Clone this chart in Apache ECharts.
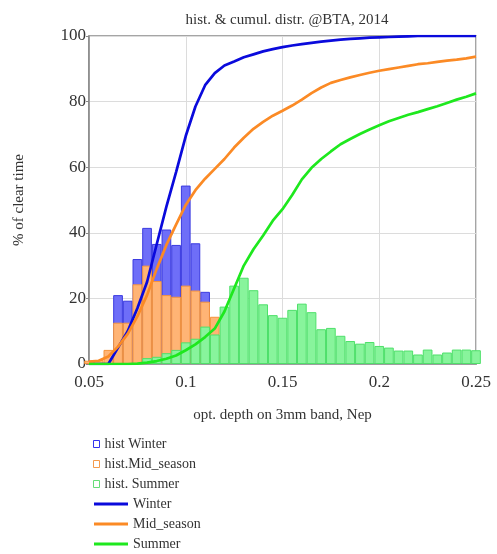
<!DOCTYPE html>
<html lang="en" style="height: 100%">

<head>
  <meta charset="utf-8">
</head>

<body style="height: 100%; margin: 0">
  <div id="container" style="height: 100%"></div>

  <script type="text/javascript" src="https://fastly.jsdelivr.net/npm/echarts@6.0.0/dist/echarts.min.js"></script>

  <script type="text/javascript">
    // bin centres, opt. depth (Nep)
    const binX = [
      0.05, 0.055, 0.06, 0.065, 0.07, 0.075, 0.08, 0.085, 0.09, 0.095,
      0.1, 0.105, 0.11, 0.115, 0.12, 0.125, 0.13, 0.135, 0.14, 0.145,
      0.15, 0.155, 0.16, 0.165, 0.17, 0.175, 0.18, 0.185, 0.19, 0.195,
      0.2, 0.205, 0.21, 0.215, 0.22, 0.225, 0.23, 0.235, 0.24, 0.245, 0.25
    ];

    // histograms
    const histWinter = [
      0, 0, 0, 21, 19.3, 32, 41.5, 36.6, 41, 36.3,
      54.4, 36.8, 22, 0, 0, 0, 0, 0, 0, 0,
      0, 0, 0, 0, 0, 0, 0, 0, 0, 0,
      0, 0, 0, 0, 0, 0, 0, 0, 0, 0, 0
    ];
    const histMid = [
      1, 1.2, 4.3, 12.6, 12.6, 24.3, 30, 25.3, 21, 20.5,
      23.9, 22.4, 19, 14.4, 0, 0, 0, 0, 0, 0,
      0, 0, 0, 0, 0, 0, 0, 0, 0, 0,
      0, 0, 0, 0, 0, 0, 0, 0, 0, 0, 0
    ];
    const histSummer = [
      0, 0, 0, 0, 0, 0, 1.8, 2.2, 3.3, 4.3,
      6.6, 7.7, 11.4, 9, 17.5, 23.9, 26.3, 22.5, 18.2, 14.9,
      14.1, 16.5, 18.4, 15.8, 10.6, 11, 8.6, 7, 6.2, 6.7,
      5.5, 5, 4.1, 4.1, 2.9, 4.4, 2.9, 3.5, 4.4, 4.4, 4.2
    ];

    // cumulative distributions
    const cumWinter = [
      0, 0, 0, 5, 10, 17, 25, 36.5, 48, 58.5,
      69.5, 78.5, 85, 88.7, 91, 92.2, 93.5, 94.4, 95.3, 96,
      96.6, 97.1, 97.5, 97.9, 98.3, 98.6, 98.9, 99.1, 99.3, 99.5,
      99.6, 99.7, 99.8, 99.9, 100, 100, 100, 100, 100, 100, 100
    ];
    const cumMid = [
      0.7, 1, 2.3, 5.3, 9.2, 14.5, 21, 29, 36.3, 42.5,
      48.5, 53, 56.5, 59.5, 62.5, 66, 69, 71.7, 73.8, 75.7,
      77.2, 78.8, 80.6, 82.6, 84.3, 85.7, 86.6, 87.4, 88.1, 88.8,
      89.4, 89.9, 90.4, 90.9, 91.4, 91.7, 92.1, 92.5, 92.8, 93.2, 93.7
    ];
    const cumSummer = [
      0, 0, 0, 0, 0, 0.1, 0.4, 0.9, 1.6, 2.6,
      4.2, 6, 8.2, 10.8, 16, 23, 30, 35, 39.2, 43.7,
      47.2, 51.5, 56.3, 59.8, 62.5, 64.8, 67, 68.6, 70.1, 71.5,
      72.8, 74, 75, 76, 76.8, 77.7, 78.6, 79.6, 80.6, 81.5, 82.5
    ];

    const xTicks = [0.05, 0.1, 0.15, 0.2, 0.25];
    const yTicks = [0, 20, 40, 60, 80, 100];

    function pairs(ys) {
      return binX.map((x, i) => [x, ys[i]]).filter(p => p[1] > 0);
    }
    function linePairs(ys) {
      return binX.map((x, i) => [x, ys[i]]);
    }

    var dom = document.getElementById('container');
    var myChart = echarts.init(dom, null, { renderer: 'canvas' });

    const serif = 'Liberation Serif';

    function hist(name, data, fill, border) {
      return {
        name: name,
        type: 'bar',
        data: pairs(data),
        barWidth: 9.7,
        barGap: '-100%',
        clip: true,
        itemStyle: { color: fill, borderColor: border, borderWidth: 1 }
      };
    }
    function cum(name, data, color) {
      return {
        name: name,
        type: 'line',
        data: linePairs(data),
        symbol: 'none',
        lineStyle: { color: color, width: 2.7 },
        itemStyle: { color: color }
      };
    }

    var option = {
      animation: false,
      title: {
        text: 'hist. & cumul. distr. @BTA, 2014',
        left: 282,
        textAlign: 'center',
        top: 8,
        textStyle: { fontFamily: serif, fontSize: 15, fontWeight: 'normal', color: '#333' }
      },
      grid: {
        left: 89,
        right: 21,
        top: 36,
        bottom: 190,
        show: true,
        borderColor: '#888',
        borderWidth: 1.5
      },
      legend: [
        {
          orient: 'vertical',
          left: 88,
          top: 432,
          height: 70,
          itemWidth: 6,
          itemHeight: 7,
          itemGap: 6,
          textStyle: { fontFamily: serif, fontSize: 14, color: '#333' },
          data: [
            { name: 'hist Winter', icon: 'rect', itemStyle: { color: '#fff', borderColor: '#3333ee', borderWidth: 1 } },
            { name: 'hist.Mid_season', icon: 'rect', itemStyle: { color: '#fff', borderColor: '#f59a4a', borderWidth: 1 } },
            { name: 'hist. Summer', icon: 'rect', itemStyle: { color: '#fff', borderColor: '#66dd77', borderWidth: 1 } }
          ]
        },
        {
          orient: 'vertical',
          left: 89,
          top: 492,
          height: 80,
          itemWidth: 34,
          itemHeight: 3,
          itemGap: 6,
          textStyle: { fontFamily: serif, fontSize: 14, color: '#333' },
          data: [
            { name: 'Winter', icon: 'rect' },
            { name: 'Mid_season', icon: 'rect' },
            { name: 'Summer', icon: 'rect' }
          ]
        }
      ],
      xAxis: {
        type: 'value',
        min: xTicks[0],
        max: xTicks[xTicks.length - 1],
        interval: 0.05,
        name: 'opt. depth on 3mm band, Nep',
        nameLocation: 'middle',
        nameGap: 44,
        nameTextStyle: { fontFamily: serif, fontSize: 15, color: '#333' },
        axisLine: { lineStyle: { color: '#888', width: 1.5 } },
        axisTick: { show: false },
        axisLabel: {
          fontFamily: serif,
          fontSize: 17,
          color: '#333',
          margin: 10,
          formatter: v => String(+v.toFixed(3))
        },
        splitLine: { show: true, lineStyle: { color: '#dcdcdc' } }
      },
      yAxis: {
        type: 'value',
        min: yTicks[0],
        max: yTicks[yTicks.length - 1],
        interval: 20,
        name: '% of clear time',
        nameLocation: 'middle',
        nameGap: 62,
        nameTextStyle: { fontFamily: serif, fontSize: 15, color: '#333' },
        axisLine: { show: true, lineStyle: { color: '#888', width: 1.5 } },
        axisTick: { show: true, length: 3, lineStyle: { color: '#888' } },
        axisLabel: { fontFamily: serif, fontSize: 17, color: '#333', margin: 3 },
        splitLine: { show: true, lineStyle: { color: '#dcdcdc' } }
      },
      series: [
        hist('hist Winter', histWinter, '#6e6ef8', '#3a3ae0'),
        hist('hist.Mid_season', histMid, '#ffb475', '#f5943c'),
        hist('hist. Summer', histSummer, '#88f49c', '#4ee06a'),
        cum('Winter', cumWinter, '#0a0adc'),
        cum('Mid_season', cumMid, '#fb8a25'),
        cum('Summer', cumSummer, '#1ee81e')
      ]
    };

    myChart.setOption(option);

    window.addEventListener('resize', myChart.resize);
  </script>
</body>

</html>
